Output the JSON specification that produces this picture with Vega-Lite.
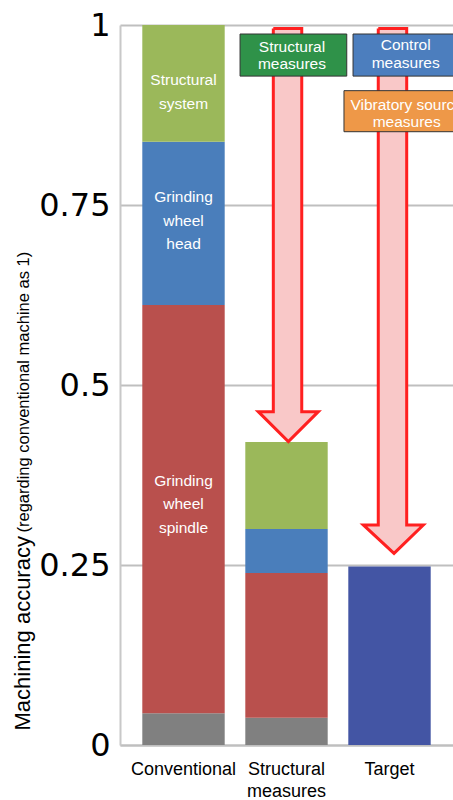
{
  "$schema": "https://vega.github.io/schema/vega-lite/v6.json",
  "width": 333,
  "height": 720,
  "autosize": {"type": "none"},
  "padding": {"left": 120, "top": 25, "right": 0, "bottom": 55},
  "background": "white",
  "config": {"view": {"stroke": null}, "font": "Liberation Sans"},
  "datasets": {
    "bars": [
      {"bar": "Conventional", "part": "Other", "value": 0.044, "o": 1},
      {"bar": "Conventional", "part": "Grinding wheel spindle", "value": 0.567, "o": 2},
      {"bar": "Conventional", "part": "Grinding wheel head", "value": 0.227, "o": 3},
      {"bar": "Conventional", "part": "Structural system", "value": 0.162, "o": 4},
      {"bar": "Structural measures", "part": "Other", "value": 0.038, "o": 1},
      {"bar": "Structural measures", "part": "Grinding wheel spindle", "value": 0.201, "o": 2},
      {"bar": "Structural measures", "part": "Grinding wheel head", "value": 0.061, "o": 3},
      {"bar": "Structural measures", "part": "Structural system", "value": 0.121, "o": 4},
      {"bar": "Target", "part": "Target", "value": 0.248, "o": 1}
    ],
    "labels": [
      {"x": 0, "y": 0.9236, "text": "Structural\nsystem"},
      {"x": 0, "y": 0.7611, "text": "Grinding\nwheel\nhead"},
      {"x": 0, "y": 0.3667, "text": "Grinding\nwheel\nspindle"}
    ],
    "arrows": [
      {"arrow": "a1", "i": 0, "x": 0.872, "y": 0.995},
      {"arrow": "a1", "i": 1, "x": 0.872, "y": 0.463},
      {"arrow": "a1", "i": 2, "x": 0.726, "y": 0.463},
      {"arrow": "a1", "i": 3, "x": 1.018, "y": 0.4213},
      {"arrow": "a1", "i": 4, "x": 1.309, "y": 0.463},
      {"arrow": "a1", "i": 5, "x": 1.148, "y": 0.463},
      {"arrow": "a1", "i": 6, "x": 1.148, "y": 0.995},
      {"arrow": "a1", "i": 7, "x": 0.872, "y": 0.995},
      {"arrow": "a2", "i": 0, "x": 1.891, "y": 0.995},
      {"arrow": "a2", "i": 1, "x": 1.891, "y": 0.3056},
      {"arrow": "a2", "i": 2, "x": 1.746, "y": 0.3056},
      {"arrow": "a2", "i": 3, "x": 2.044, "y": 0.2662},
      {"arrow": "a2", "i": 4, "x": 2.328, "y": 0.3056},
      {"arrow": "a2", "i": 5, "x": 2.167, "y": 0.3056},
      {"arrow": "a2", "i": 6, "x": 2.167, "y": 0.995},
      {"arrow": "a2", "i": 7, "x": 1.891, "y": 0.995}
    ],
    "boxes": [
      {"box": "Structural measures", "x1": 0.549, "x2": 1.585, "y1": 0.9875, "y2": 0.929, "xt": 1.053, "yt": 0.9699, "text": "Structural\nmeasures"},
      {"box": "Control measures", "x1": 1.646, "x2": 2.665, "y1": 0.9875, "y2": 0.929, "xt": 2.157, "yt": 0.9722, "text": "Control\nmeasures"},
      {"box": "Vibratory source measures", "x1": 1.558, "x2": 2.782, "y1": 0.9088, "y2": 0.8518, "xt": 2.167, "yt": 0.8889, "text": "Vibratory source\nmeasures"}
    ]
  },
  "layer": [
    {
      "data": {"name": "bars"},
      "mark": {"type": "bar"},
      "encoding": {
        "x": {
          "field": "bar", "type": "nominal",
          "sort": ["Conventional", "Structural measures", "Target"],
          "scale": {"paddingInner": 0.2, "paddingOuter": 0.2165},
          "axis": {
            "title": null, "labelAngle": 0, "labelFont": "Liberation Sans", "labelFontSize": 18,
            "labelColor": "#000", "labelPadding": 15, "ticks": false, "tickSize": 0,
            "domainColor": "#BFBFBF", "domainWidth": 2, "labelLineHeight": 22, "labelBaseline": "top",
            "labelExpr": "datum.label == 'Structural measures' ? ['Structural', 'measures'] : datum.label"
          }
        },
        "y": {
          "field": "value", "type": "quantitative", "stack": "zero",
          "scale": {"domain": [0, 1], "nice": false},
          "axis": {
            "values": [0, 0.25, 0.5, 0.75, 1],
            "labelExpr": "'' + datum.value",
            "labelFont": "DejaVu Sans", "labelFontSize": 32, "labelColor": "#000", "labelPadding": 10,
            "labelFlush": false, "labelOverlap": false,
            "ticks": false, "tickSize": 0,
            "domainColor": "#C8C8C8", "domainWidth": 2,
            "grid": true, "gridColor": "#BFBFBF", "gridWidth": 2,
            "title": "Machining accuracy", "titleFont": "Liberation Sans", "titleFontSize": 22,
            "titleFontWeight": "normal", "titleColor": "#000", "titleAngle": -90,
            "titleAlign": "left", "titleBaseline": "alphabetic", "titleX": -91, "titleY": 705
          }
        },
        "color": {
          "field": "part", "type": "nominal",
          "scale": {
            "domain": ["Other", "Grinding wheel spindle", "Grinding wheel head", "Structural system", "Target"],
            "range": ["#808080", "#B9504D", "#4A7EBB", "#9BB85A", "#4355A4"]
          },
          "legend": null
        },
        "order": {"field": "o", "type": "quantitative"}
      }
    },
    {
      "layer": [
        {
          "data": {"name": "labels"},
          "mark": {"type": "text", "color": "white", "font": "Liberation Sans", "fontSize": 15.5, "lineBreak": "\n", "lineHeight": 23.5, "baseline": "middle", "align": "center"},
          "encoding": {
            "x": {"field": "x", "type": "quantitative", "scale": {"domain": [-0.6165, 2.6165], "nice": false, "zero": false}, "axis": null},
            "y": {
              "field": "y", "type": "quantitative", "scale": {"domain": [0, 1], "nice": false},
              "axis": {
                "orient": "left", "labels": false, "ticks": false, "domain": false, "grid": false,
                "title": "(regarding conventional machine as 1)", "titleFont": "Liberation Sans", "titleFontSize": 16.5,
                "titleFontWeight": "normal", "titleColor": "#000", "titleAngle": -90,
                "titleAlign": "left", "titleBaseline": "alphabetic", "titleX": -92, "titleY": 507
              }
            },
            "text": {"field": "text"}
          }
        },
        {
          "data": {"name": "arrows"},
          "mark": {"type": "line", "fill": "#F9C8C8", "stroke": "#FF2020", "strokeWidth": 3, "strokeJoin": "miter", "interpolate": "linear"},
          "encoding": {
            "x": {"field": "x", "type": "quantitative", "axis": null},
            "y": {
              "field": "y", "type": "quantitative",
              "axis": {
                "orient": "left", "labels": false, "ticks": false, "domain": false, "grid": false,
                "title": "(regarding conventional machine as 1)", "titleFont": "Liberation Sans", "titleFontSize": 16.5,
                "titleFontWeight": "normal", "titleColor": "#000", "titleAngle": -90,
                "titleAlign": "left", "titleBaseline": "alphabetic", "titleX": -92, "titleY": 507
              }
            },
            "detail": {"field": "arrow"},
            "order": {"field": "i", "type": "quantitative"}
          }
        },
        {
          "data": {"name": "boxes"},
          "mark": {"type": "rect", "stroke": "#333333", "strokeWidth": 1},
          "encoding": {
            "x": {"field": "x1", "type": "quantitative", "axis": null},
            "x2": {"field": "x2"},
            "y": {
              "field": "y1", "type": "quantitative",
              "axis": {
                "orient": "left", "labels": false, "ticks": false, "domain": false, "grid": false,
                "title": "(regarding conventional machine as 1)", "titleFont": "Liberation Sans", "titleFontSize": 16.5,
                "titleFontWeight": "normal", "titleColor": "#000", "titleAngle": -90,
                "titleAlign": "left", "titleBaseline": "alphabetic", "titleX": -92, "titleY": 507
              }
            },
            "y2": {"field": "y2"},
            "color": {
              "field": "box", "type": "nominal",
              "scale": {"domain": ["Structural measures", "Control measures", "Vibratory source measures"], "range": ["#2F9249", "#4C7EBE", "#EE9848"]},
              "legend": null
            }
          }
        },
        {
          "data": {"name": "boxes"},
          "mark": {"type": "text", "color": "white", "font": "Liberation Sans", "fontSize": 15.5, "lineBreak": "\n", "lineHeight": 17.5, "baseline": "middle", "align": "center"},
          "encoding": {
            "x": {"field": "xt", "type": "quantitative", "axis": null},
            "y": {
              "field": "yt", "type": "quantitative",
              "axis": {
                "orient": "left", "labels": false, "ticks": false, "domain": false, "grid": false,
                "title": "(regarding conventional machine as 1)", "titleFont": "Liberation Sans", "titleFontSize": 16.5,
                "titleFontWeight": "normal", "titleColor": "#000", "titleAngle": -90,
                "titleAlign": "left", "titleBaseline": "alphabetic", "titleX": -92, "titleY": 507
              }
            },
            "text": {"field": "text"}
          }
        }
      ]
    }
  ],
  "resolve": {
    "scale": {"x": "independent", "y": "independent", "color": "independent"},
    "axis": {"x": "independent", "y": "independent"}
  }
}
